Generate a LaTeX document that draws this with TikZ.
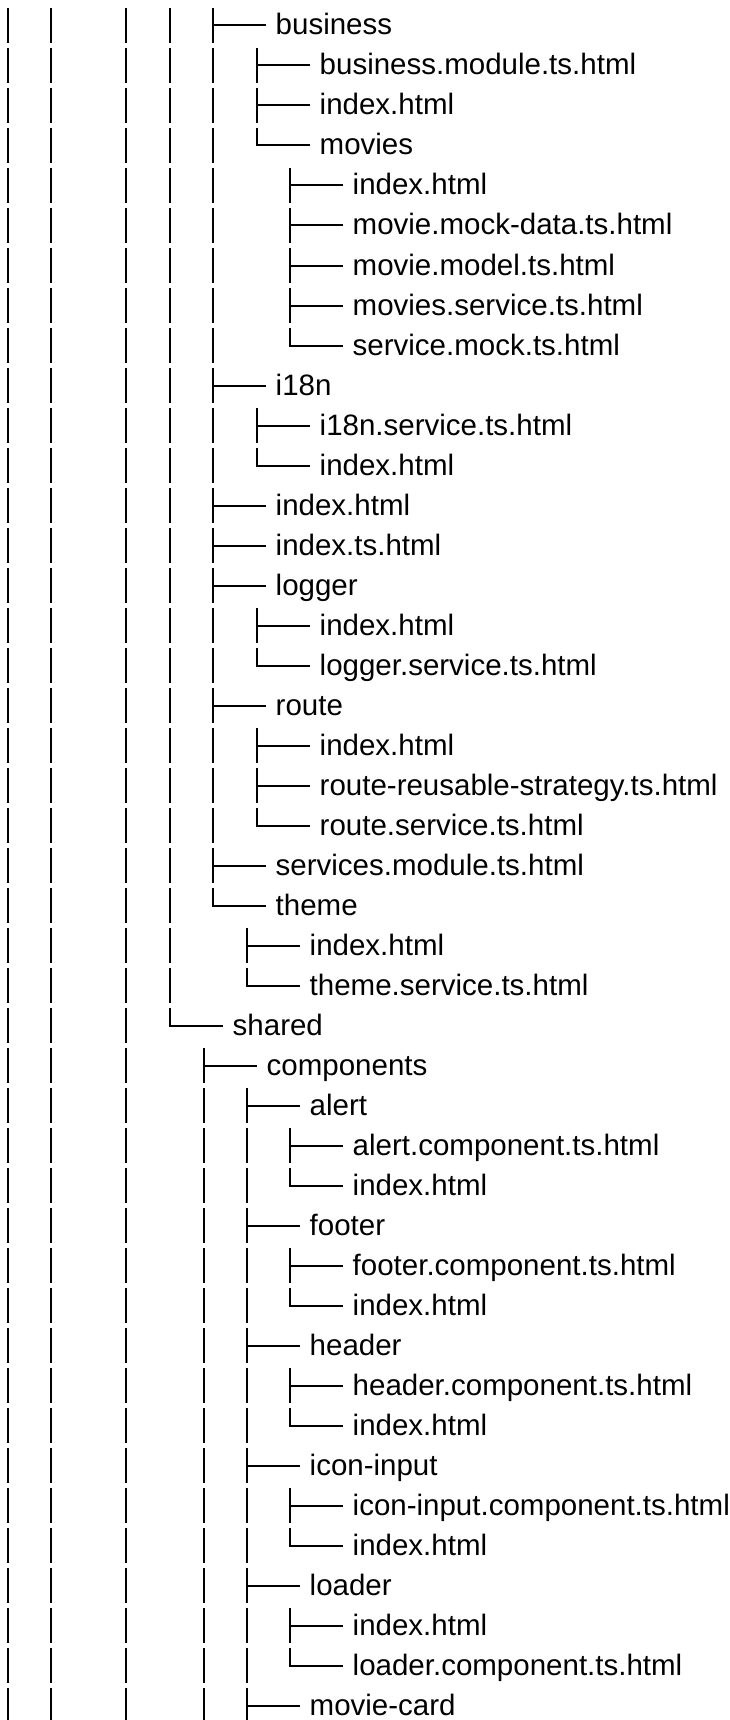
\documentclass[tikz,border=0pt]{standalone}
\usepackage{fontspec}
\setmainfont{Liberation Sans}
\usepackage{tikz}
\usetikzlibrary{calc,positioning}
\tikzset{entry/.style={
            anchor=west,
            inner xsep=11pt,
            inner ysep=0pt,
            text height=23pt,
            text depth=4pt,
            font=\fontsize{29.5}{35}\selectfont
        },
        trunk/.style={
            draw,
            line width=2pt,
            dash pattern=on 35pt off 5pt
        },
        twig/.style={
            draw,
            line width=2pt,
            line cap=rect
        }
    }

\begin{document}
\begin{tikzpicture}[x=1pt,y=-1pt]
        \useasboundingbox (0,0) rectangle (729,1720);

        % one row per entry: row / x of the branch / text
        \foreach \r/\x/\name in {0/213/business, 1/257/business.module.ts.html, 2/257/index.html, 3/257/movies,
            4/290/index.html, 5/290/movie.mock-data.ts.html, 6/290/movie.model.ts.html, 7/290/movies.service.ts.html,
            8/290/service.mock.ts.html, 9/213/i18n, 10/257/i18n.service.ts.html, 11/257/index.html,
            12/213/index.html, 13/213/index.ts.html, 14/213/logger, 15/257/index.html, 16/257/logger.service.ts.html,
            17/213/route, 18/257/index.html, 19/257/route-reusable-strategy.ts.html, 20/257/route.service.ts.html,
            21/213/services.module.ts.html, 22/213/theme, 23/247/index.html, 24/247/theme.service.ts.html,
            25/170/shared, 26/204/components, 27/247/alert, 28/290/alert.component.ts.html, 29/290/index.html,
            30/247/footer, 31/290/footer.component.ts.html, 32/290/index.html, 33/247/header,
            34/290/header.component.ts.html, 35/290/index.html, 36/247/icon-input,
            37/290/icon-input.component.ts.html, 38/290/index.html, 39/247/loader, 40/290/index.html,
            41/290/loader.component.ts.html, 42/247/movie-card}{
            \coordinate (b\r) at (\x,25.5+40*\r);
            \node[entry] (n\r) at (\x+51.5,25.5+40*\r) {\name};
            \draw[twig] (b\r) -- (n\r.west);
        }

        % columns of the outer folders
        \foreach \c in {8.3,51.3,126}
            \draw[trunk] (\c,8) -- (\c,1720);
        \draw[trunk] (b25 |- 0,8) -- (b25);

        % stems from first to last child
        \draw[trunk] ([yshift=17.5pt]b0) -- (b22);
        \draw[trunk] ([yshift=17.5pt]b1) -- (b3);
        \draw[trunk] ([yshift=17.5pt]b4) -- (b8);
        \draw[trunk] ([yshift=17.5pt]b10) -- (b11);
        \draw[trunk] ([yshift=17.5pt]b15) -- (b16);
        \draw[trunk] ([yshift=17.5pt]b18) -- (b20);
        \draw[trunk] ([yshift=17.5pt]b23) -- (b24);
        \draw[trunk] ([yshift=17.5pt]b26) -- (b26 |- 0,1720);
        \draw[trunk] ([yshift=17.5pt]b27) -- (b27 |- 0,1720);
        \draw[trunk] ([yshift=17.5pt]b28) -- (b29);
        \draw[trunk] ([yshift=17.5pt]b31) -- (b32);
        \draw[trunk] ([yshift=17.5pt]b34) -- (b35);
        \draw[trunk] ([yshift=17.5pt]b37) -- (b38);
        \draw[trunk] ([yshift=17.5pt]b40) -- (b41);

    \end{tikzpicture}
\end{document}
